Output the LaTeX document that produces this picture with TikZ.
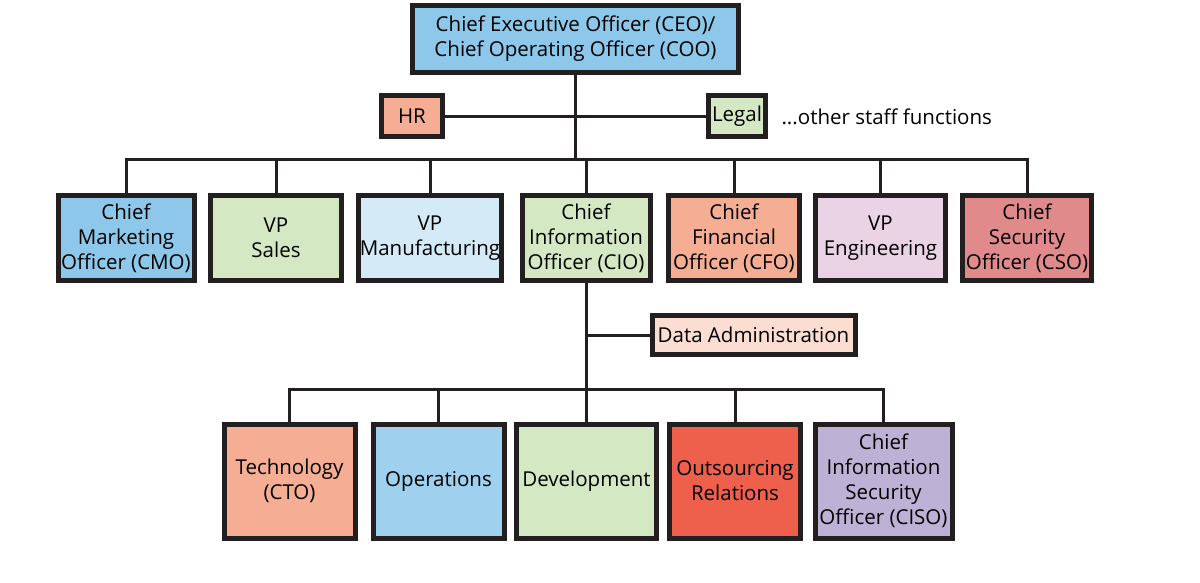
\documentclass[tikz,border=0pt]{standalone}
\usepackage{fontspec}
\setmainfont{Open Sans}
\definecolor{ink}{HTML}{231F20}
\definecolor{skyblue}{HTML}{8DC8EA}
\definecolor{paleblue}{HTML}{D4EAF7}
\definecolor{midblue}{HTML}{9FD1EE}
\definecolor{palegreen}{HTML}{D5E8C4}
\definecolor{salmon}{HTML}{F5AE93}
\definecolor{peach}{HTML}{FBDDD1}
\definecolor{lilac}{HTML}{EBD3E6}
\definecolor{rosered}{HTML}{E08A8C}
\definecolor{tomato}{HTML}{EE5F4C}
\definecolor{lavender}{HTML}{BDB2D6}
\tikzset{
  orgbox/.style={draw=ink, line width=5pt, align=center, inner sep=0pt,
    font=\fontsize{20.5}{25}\selectfont},
  link/.style={draw=ink, line width=3pt},
}
\begin{document}
\begin{tikzpicture}[x=1pt,y=-1pt]
  \useasboundingbox (0,0) rectangle (1200,583);
  \node[orgbox, fill=skyblue, minimum width=326pt, minimum height=67pt] (ceo) at (575.5,39)
    {Chief Executive Officer (CEO)/\\Chief Operating Officer (COO)};
  \node[orgbox, fill=salmon, minimum width=61pt, minimum height=41pt] (hr) at (412,116.5) {HR};
  \node[orgbox, fill=palegreen, minimum width=57pt, minimum height=41pt] (legal) at (737,116.5) {Legal};
  \node[anchor=west, font=\fontsize{20.5}{25}\selectfont] (others) at (778,116.5) {...other staff functions};
  \foreach \n/\x/\w/\c/\t in {
      cmo/126/136/skyblue/{Chief\\Marketing\\Officer (CMO)},
      sales/276/131/palegreen/{VP\\Sales},
      manu/430/143/paleblue/{VP\\Manufacturing},
      cio/586/128/palegreen/{Chief\\Information\\Officer (CIO)},
      cfo/734/131/salmon/{Chief\\Financial\\Officer (CFO)},
      eng/880.5/130/lilac/{VP\\Engineering},
      cso/1027/129/rosered/{Chief\\Security\\Officer (CSO)}}
    \node[orgbox, fill=\c, minimum width=\w pt, minimum height=85pt] (\n) at (\x,238) {\t};
  \node[orgbox, fill=peach, minimum width=203pt, minimum height=39pt] (data) at (753.5,335) {Data Administration};
  \foreach \n/\x/\w/\c/\t in {
      tech/289.5/131/salmon/{Technology\\(CTO)},
      ops/438.5/131/midblue/{Operations},
      dev/586.5/140/palegreen/{Development},
      outs/735/131/tomato/{Outsourcing\\Relations},
      ciso/883.5/137/lavender/{Chief\\Information\\Security\\Officer (CISO)}}
    \node[orgbox, fill=\c, minimum width=\w pt, minimum height=114pt] (\n) at (\x,481) {\t};
  \coordinate (bus1) at (575,159.5);
  \coordinate (bus2) at (586,389.5);
  \draw[link] (ceo.south) -- (ceo.south |- bus1);
  \draw[link] (hr) -- (legal);
  \draw[link] (cmo.north) |- (cso.north |- bus1) -- (cso.north);
  \foreach \n in {sales,manu,cio,cfo,eng}
    \draw[link] (\n.north) -- (\n.north |- bus1);
  \draw[link] (cio.south) -- (cio.south |- bus2);
  \draw[link] (cio.south |- data.west) -- (data.west);
  \draw[link] (tech.north) |- (ciso.north |- bus2) -- (ciso.north);
  \foreach \n in {ops,dev,outs}
    \draw[link] (\n.north) -- (\n.north |- bus2);
\end{tikzpicture}
\end{document}
